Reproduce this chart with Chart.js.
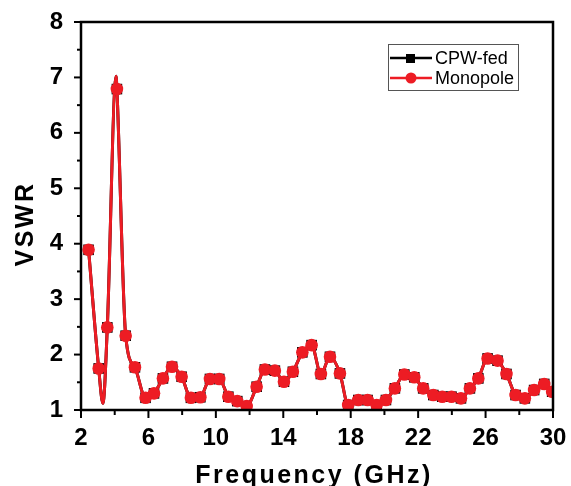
<!DOCTYPE html>
<html>
<head>
<meta charset="utf-8">
<script src="https://cdn.jsdelivr.net/npm/chart.js@4.4.0/dist/chart.umd.min.js"></script>
<style>
html, body { margin: 0; padding: 0; background: #fff; }
</style>
</head>
<body>
<canvas id="myChart" width="571" height="486"></canvas>
<script>
// marker positions (GHz) and VSWR
const markFreq = [2.45, 3.05, 3.56, 4.13, 4.65, 5.2, 5.83, 6.33, 6.86, 7.4,
    7.97, 8.52, 9.08, 9.65, 10.2, 10.74, 11.27, 11.83, 12.42, 12.91,
    13.5, 14.04, 14.57, 15.13, 15.68, 16.23, 16.77, 17.36, 17.85, 18.45,
    19.0, 19.54, 20.09, 20.62, 21.18, 21.77, 22.3, 22.9, 23.43, 23.98,
    24.54, 25.07, 25.57, 26.12, 26.71, 27.24, 27.78, 28.33, 28.88, 29.48, 29.95];
const cpwVswr = [3.89, 1.75, 2.49, 6.79, 2.34, 1.77, 1.22, 1.30, 1.57, 1.78,
    1.60, 1.22, 1.23, 1.56, 1.56, 1.24, 1.16, 1.07, 1.42, 1.73,
    1.71, 1.51, 1.69, 2.04, 2.17, 1.65, 1.96, 1.66, 1.09, 1.18,
    1.18, 1.09, 1.18, 1.39, 1.64, 1.59, 1.39, 1.27, 1.24, 1.24,
    1.21, 1.39, 1.57, 1.93, 1.89, 1.65, 1.27, 1.21, 1.36, 1.47, 1.33];
const monoVswr = cpwVswr.slice(); // the two curves lie on top of each other

// curve points between markers (dip and resonance peak)
const curveFreq = [3.3, 4.08];
const curveVswr = [1.12, 7.02];

const xTicks = [2, 6, 10, 14, 18, 22, 26, 30];
const yTicks = [1, 2, 3, 4, 5, 6, 7, 8];

const RED = 'rgb(237,28,36)';
const FONT = '"Liberation Sans", Arial, sans-serif';

function markerPts(vals) {
    return markFreq.map((f, i) => ({x: f, y: vals[i]}));
}
function curvePts(vals) {
    let pts = markerPts(vals).concat(curveFreq.map((f, i) => ({x: f, y: curveVswr[i]})));
    return pts.sort((a, b) => a.x - b.x);
}

// frame, tick marks, axis titles and legend
const decor = {
    id: 'decor',
    afterDraw(chart) {
        const c = chart.ctx;
        const a = chart.chartArea;
        const xs = chart.scales.x, ys = chart.scales.y;
        c.save();
        c.strokeStyle = '#000';
        c.lineWidth = 2;
        for (let v = 2; v <= 30; v += 2) {
            let px = xs.getPixelForValue(v);
            let len = xTicks.includes(v) ? 8 : 5;
            c.beginPath(); c.moveTo(px, a.bottom); c.lineTo(px, a.bottom + len); c.stroke();
        }
        for (let v = 1; v <= 8; v += 0.5) {
            let py = ys.getPixelForValue(v);
            let len = yTicks.includes(v) ? 7 : 4;
            c.beginPath(); c.moveTo(a.left, py); c.lineTo(a.left - len, py); c.stroke();
        }
        c.lineWidth = 2.5;
        c.strokeRect(a.left, a.top, a.right - a.left, a.bottom - a.top);

        // axis titles
        c.fillStyle = '#000';
        c.font = 'bold 25px ' + FONT;
        c.letterSpacing = '2.5px';
        c.textAlign = 'center';
        c.textBaseline = 'alphabetic';
        c.fillText('Frequency (GHz)', 314, 483);
        c.translate(33, 224);
        c.rotate(-Math.PI / 2);
        c.fillText('VSWR', 0, 0);
        c.restore();

        // legend
        c.save();
        c.strokeStyle = '#555';
        c.lineWidth = 1;
        c.strokeRect(388.5, 44.5, 130, 46);
        c.font = '18px ' + FONT;
        c.textAlign = 'left';
        c.textBaseline = 'middle';
        c.lineWidth = 2.5;
        c.strokeStyle = '#000';
        c.beginPath(); c.moveTo(390, 58); c.lineTo(432, 58); c.stroke();
        c.fillStyle = '#000';
        c.fillRect(406, 54, 9, 9);
        c.fillText('CPW-fed', 435, 59);
        c.strokeStyle = RED;
        c.beginPath(); c.moveTo(390, 78); c.lineTo(432, 78); c.stroke();
        c.fillStyle = RED;
        c.beginPath(); c.arc(411, 78, 5.5, 0, Math.PI * 2); c.fill();
        c.fillStyle = '#000';
        c.fillText('Monopole', 435, 79);
        c.restore();
    }
};

const ctx = document.getElementById('myChart').getContext('2d');
const myChart = new Chart(ctx, {
    type: 'line',
    data: {
        datasets: [
        {
            label: 'CPW-fed',
            data: curvePts(cpwVswr),
            borderColor: '#000',
            borderWidth: 3,
            pointRadius: 0,
            cubicInterpolationMode: 'monotone',
            order: 4
        },
        {
            label: 'CPW-fed markers',
            data: markerPts(cpwVswr),
            showLine: false,
            pointStyle: 'rect',
            pointRadius: 7.5,
            backgroundColor: '#000',
            borderWidth: 0,
            order: 3
        },
        {
            label: 'Monopole',
            data: curvePts(monoVswr),
            borderColor: RED,
            borderWidth: 3,
            pointRadius: 0,
            cubicInterpolationMode: 'monotone',
            order: 2
        },
        {
            label: 'Monopole markers',
            data: markerPts(monoVswr),
            showLine: false,
            pointStyle: 'circle',
            pointRadius: 6.3,
            backgroundColor: RED,
            borderWidth: 0,
            order: 1
        }
    ]
    },
    options: {
        responsive: false,
        animation: false,
        events: [],
        layout: { padding: { top: 22, right: 18, left: 0, bottom: 0 } },
        plugins: { legend: { display: false }, tooltip: { enabled: false } },
        scales: {
            x: {
                type: 'linear', min: 2, max: 30,
                grid: { display: false, drawTicks: false },
                border: { display: false },
                afterBuildTicks: s => { s.ticks = xTicks.map(v => ({value: v})); },
                ticks: {
                    autoSkip: false, maxRotation: 0, padding: 14, color: '#000',
                    font: { family: FONT, size: 24, weight: 'bold' }
                },
                afterFit: s => { s.height = 76; s.paddingLeft = 0; s.paddingRight = 0; }
            },
            y: {
                type: 'linear', min: 1, max: 8,
                grid: { display: false, drawTicks: false },
                border: { display: false },
                afterBuildTicks: s => { s.ticks = yTicks.map(v => ({value: v})); },
                ticks: {
                    autoSkip: false, padding: 18, color: '#000',
                    font: { family: FONT, size: 24, weight: 'bold' }
                },
                afterFit: s => { s.width = 81; s.paddingTop = 0; s.paddingBottom = 0; }
            }
        }
    },
    plugins: [decor]
});
</script>
</body>
</html>
